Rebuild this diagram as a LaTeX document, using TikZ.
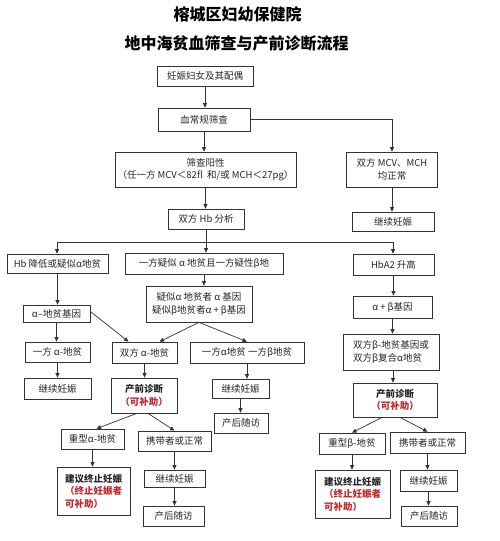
\documentclass[tikz,border=0pt]{standalone}
\usepackage{fontspec}
\setmainfont{Noto Sans CJK SC}
\usetikzlibrary{arrows.meta}
\definecolor{rdc}{HTML}{C0282D}
\definecolor{lnc}{HTML}{333333}
\begin{document}
\begin{tikzpicture}[x=1pt,y=-1pt,
  bx/.style={draw=lnc, line width=0.7pt, inner sep=1pt, align=center, font=\fontsize{9.5}{12.5}\selectfont, text=black!85},
  ar/.style={draw=lnc, line width=0.7pt, -{Triangle[length=4.5pt,width=4pt]}},
  ln/.style={draw=lnc, line width=0.7pt},
  ttl/.style={font=\fontsize{16}{18}\selectfont\bfseries, inner sep=0pt}]
\useasboundingbox (0,0) rectangle (500,541);
\fill[white] (0,0) rectangle (500,541);
% titles
\node[ttl] (t1) at (237.5,14) {榕城区妇幼保健院};
\node[ttl] (t2) at (236.5,43) {地中海贫血筛查与产前诊断流程};
% boxes
\node[bx,minimum width=96,minimum height=20] (preg) at (205,76) {妊娠妇女及其配偶};
\node[bx,minimum width=92,minimum height=23] (blood) at (204,119.5) {血常规筛查};
\node[bx,minimum width=181,minimum height=35] (pos) at (205.5,169.5) {筛查阳性\\（任一方 MCV＜82fl\ \ 和/或 MCH＜27pg）};
\node[bx,minimum width=91,minimum height=35] (mcv) at (392,169.5) {双方 MCV、MCH\\均正常};
\node[bx,minimum width=82,minimum height=19] (contR) at (393,221.5) {继续妊娠};
\node[bx,minimum width=76,minimum height=20] (hb) at (206,219) {双方 Hb 分析};
\node[bx,minimum width=101,minimum height=19] (hbdown) at (57.5,263.5) {Hb 降低或疑似α地贫};
\node[bx,minimum width=158,minimum height=21] (onesus) at (204,263.5) {一方疑似 α 地贫且一方疑性β地};
\node[bx,minimum width=81,minimum height=21] (hba2) at (393.5,264.5) {HbA2 升高};
\node[bx,minimum width=106,minimum height=36] (susgene) at (199,304) {疑似α 地贫者 α 基因\\疑似β地贫者α + β基因};
\node[bx,minimum width=67,minimum height=17] (agene) at (56.5,313.5) {α--地贫基因};
\node[bx,minimum width=65,minimum height=20] (oneA) at (57.5,352) {一方 α-地贫};
\node[bx,minimum width=65,minimum height=21] (bothA) at (144.5,352.5) {双方 α-地贫};
\node[bx,minimum width=114,minimum height=21] (oneAB) at (247,352.5) {一方α地贫 一方β地贫};
\node[bx,minimum width=79,minimum height=22] (abgene) at (392.5,307) {α + β基因};
\node[bx,minimum width=96,minimum height=36,align=left] (bothB) at (391,352) {双方β-地贫基因或\\双方β复合α地贫};
\node[bx,minimum width=67,minimum height=21] (contL) at (57.5,388.5) {继续妊娠};
\node[bx,minimum width=66,minimum height=35] (pdM) at (144,395.5) {\textbf{产前诊断}\\\textcolor{rdc}{\textbf{（可补助）}}};
\node[bx,minimum width=57,minimum height=19] (contM) at (240.5,388.5) {继续妊娠};
\node[bx,minimum width=54,minimum height=20] (fuM) at (241,423) {产后随访};
\node[bx,minimum width=84,minimum height=34] (pdR) at (395,400) {\textbf{产前诊断}\\\textcolor{rdc}{\textbf{（可补助）}}};
\node[bx,minimum width=63,minimum height=20] (sevA) at (92.5,439) {重型α-地贫};
\node[bx,minimum width=73,minimum height=20] (carA) at (174.5,441) {携带者或正常};
\node[bx,minimum width=73,minimum height=48,align=left] (termA) at (93.5,491) {\textbf{建议终止妊娠}\\\textcolor{rdc}{\textbf{（终止妊娠者}}\\\textcolor{rdc}{\textbf{可补助）}}};
\node[bx,minimum width=61,minimum height=17] (contA) at (174.5,478.5) {继续妊娠};
\node[bx,minimum width=61,minimum height=20] (fuA) at (173.5,516) {产后随访};
\node[bx,minimum width=66,minimum height=21] (sevB) at (352,443.5) {重型β-地贫};
\node[bx,minimum width=75,minimum height=21] (carB) at (427.5,442.5) {携带者或正常};
\node[bx,minimum width=75,minimum height=48,align=left] (termB) at (352.5,494) {\textbf{建议终止妊娠}\\\textcolor{rdc}{\textbf{（终止妊娠者}}\\\textcolor{rdc}{\textbf{可补助）}}};
\node[bx,minimum width=57,minimum height=21] (contB) at (428.5,480.5) {继续妊娠};
\node[bx,minimum width=56,minimum height=20] (fuB) at (429,516) {产后随访};
% connectors
\coordinate (jL) at (57,242);
\coordinate (jM) at (206,242);
\coordinate (jR) at (393,242);
\draw[ar] (preg.south) -- (preg.south |- blood.north);
\draw[ar] (blood.east) -| (mcv.north);
\draw[ar] (blood.south) -- (blood.south |- pos.north);
\draw[ar] (pos.south) -- (pos.south |- hb.north);
\draw[ar] (mcv.south) -- (mcv.south |- contR.north);
\draw[ln] (hb.south) -- (jM);
\draw[ln] (jL) -- (jR);
\draw[ar] (jL) -- (jL |- hbdown.north);
\draw[ar] (jM) -- (jM |- onesus.north);
\draw[ar] (jR) -- (jR |- hba2.north);
\draw[ar] (onesus.south) -- (onesus.south |- susgene.north);
\draw[ar] (hbdown.south) -- (hbdown.south |- agene.north);
\draw[ar] (agene.south) -- (agene.south |- oneA.north);
\draw[ar] ([yshift=2]agene.east) -- ([xshift=-16]bothA.north);
\draw[ar] (susgene.south) -- ([xshift=15]bothA.north);
\draw[ar] (susgene.south) -- (oneAB.north);
\draw[ar] (oneA.south) -- (oneA.south |- contL.north);
\draw[ar] (bothA.south) -- (bothA.south |- pdM.north);
\draw[ar] (oneAB.south) -- (oneAB.south |- contM.north);
\draw[ar] (contM.south) -- (contM.south |- fuM.north);
\draw[ar] ([xshift=-7]pdM.south) -- ([xshift=4]sevA.north);
\draw[ar] ([xshift=4]pdM.south) -- (carA.north);
\draw[ar] (sevA.south) -- (sevA.south |- termA.north);
\draw[ar] (carA.south) -- (carA.south |- contA.north);
\draw[ar] (contA.south) -- (contA.south |- fuA.north);
\draw[ar] (hba2.south) -- (hba2.south |- abgene.north);
\draw[ar] (abgene.south) -- (abgene.south |- bothB.north);
\draw[ar] ([xshift=2]bothB.south) -- ([xshift=2]bothB.south |- pdR.north);
\draw[ar] ([xshift=-13]pdR.south) -- (sevB.north);
\draw[ar] ([xshift=5]pdR.south) -- (carB.north);
\draw[ar] (sevB.south) -- (sevB.south |- termB.north);
\draw[ar] (carB.south) -- (carB.south |- contB.north);
\draw[ar] (contB.south) -- (contB.south |- fuB.north);
\end{tikzpicture}
\end{document}
